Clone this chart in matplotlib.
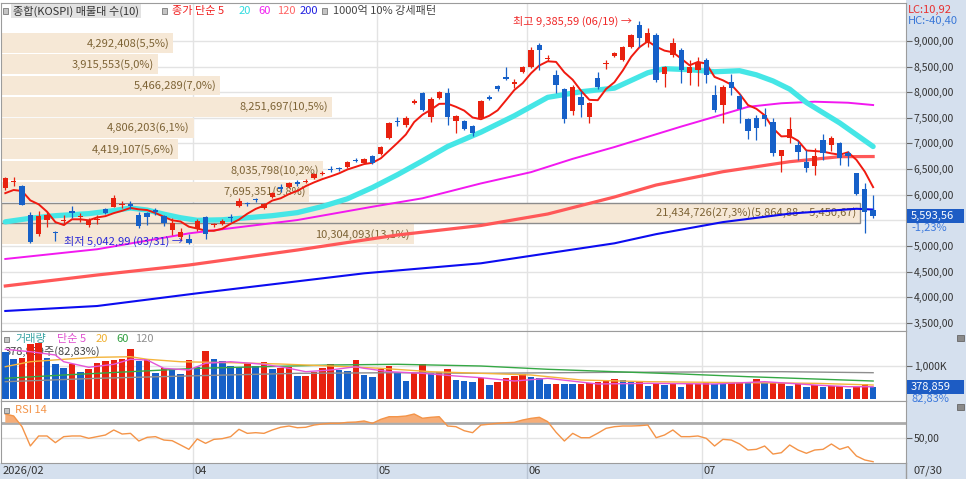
import matplotlib
matplotlib.use("Agg")
import matplotlib.pyplot as plt
import matplotlib.transforms as mtransforms
from matplotlib.patches import Rectangle
import numpy as np
import pandas as pd

# ---------------------------------------------------------------
# KOSPI daily candles 2026/02 - 07/30 : volume profile (10 bands),
# price MAs, volume panel and RSI 14
# ---------------------------------------------------------------

plt.rcParams['font.family'] = ['Noto Sans CJK KR', 'DejaVu Sans']
plt.rcParams['font.size'] = 8

opens = [6125, 6250, 6175, 5600, 5230, 5505, 5265, 5495, 5680, 5555,
         5410, 5515, 5715, 5765, 5805, 5815, 5600, 5635, 5700, 5590,
         5310, 5180, 5140, 5325, 5565, 5400, 5430, 5560, 5785, 5830,
         5905, 5735, 5955, 6155, 6155, 6240, 6250, 6320, 6405, 6500,
         6510, 6545, 6680, 6615, 6760, 6790, 7100, 7440, 7360, 7795,
         7980, 7520, 7880, 7980, 7440, 7440, 7345, 7490, 7905, 8115,
         8290, 8170, 8390, 8500, 8920, 8640, 8335, 8065, 7640, 7915,
         7520, 8270, 8550, 8715, 8630, 8890, 9310, 8955, 9115, 8350,
         8725, 8825, 8370, 8435, 8630, 7945, 7750, 8205, 7925, 7470,
         7490, 7555, 7425, 6755, 7100, 6970, 6645, 6560, 7065, 6970,
         7015, 6810, 6420, 6105, 5700]
highs = [6345, 6350, 6190, 5665, 5680, 5670, 5300, 5600, 5780, 5640,
         5545, 5600, 5735, 5995, 5880, 5880, 5660, 5670, 5740, 5610,
         5545, 5350, 5240, 5520, 5590, 5440, 5520, 5625, 5930, 5850,
         5930, 5830, 6050, 6200, 6240, 6280, 6300, 6420, 6460, 6560,
         6540, 6665, 6710, 6720, 6780, 6960, 7410, 7525, 7530, 7870,
         8010, 7900, 8030, 8075, 7560, 7460, 7370, 7850, 7950, 8140,
         8500, 8250, 8510, 8890, 8955, 8720, 8435, 8080, 8150, 8030,
         7800, 8400, 8620, 8790, 8910, 9140, 9385.59, 9250, 9150, 8520,
         9050, 8860, 8620, 8690, 8660, 8140, 8150, 8355, 7960, 7500,
         7555, 7690, 7500, 6880, 7515, 7040, 6870, 6910, 7180, 7150,
         7030, 6850, 6430, 6235, 5995]
lows = [6100, 6160, 5790, 5050, 5190, 5375, 5090, 5410, 5545, 5470,
        5360, 5430, 5615, 5750, 5740, 5730, 5350, 5410, 5600, 5380,
        5215, 5115, 5042.99, 5300, 5140, 5370, 5400, 5470, 5765, 5770,
        5860, 5720, 5940, 6060, 6140, 6170, 6220, 6300, 6380, 6440,
        6470, 6530, 6640, 6600, 6600, 6770, 7080, 7340, 7330, 7770,
        7640, 7410, 7860, 7360, 7200, 7260, 7150, 7470, 7840, 8030,
        8240, 8080, 8370, 8480, 8435, 8600, 7990, 7400, 7550, 7520,
        7390, 8060, 8460, 8690, 8600, 8870, 8890, 8890, 8200, 8110,
        8695, 8175, 8140, 8115, 8175, 7620, 7405, 7945, 7405, 7080,
        7065, 7340, 6750, 6450, 7000, 6670, 6450, 6380, 6675, 6860,
        6580, 6560, 5990, 5260, 5540]
closes = [6320, 6265, 5800, 5085, 5590, 5600, 5250, 5515, 5645, 5585,
          5505, 5530, 5640, 5940, 5815, 5780, 5395, 5570, 5655, 5440,
          5440, 5280, 5060, 5480, 5235, 5420, 5485, 5540, 5885, 5810,
          5890, 5810, 6035, 6105, 6220, 6205, 6270, 6400, 6425, 6490,
          6500, 6645, 6660, 6695, 6615, 6935, 7395, 7420, 7505, 7835,
          7655, 7870, 8000, 7520, 7535, 7280, 7200, 7830, 7860, 8065,
          8260, 8200, 8500, 8825, 8825, 8670, 8140, 7480, 8100, 7750,
          7785, 8110, 8575, 8760, 8890, 9115, 9055, 9150, 8240, 8500,
          8955, 8435, 8500, 8565, 8335, 7655, 8110, 8075, 7665, 7245,
          7295, 7470, 6810, 6870, 7280, 6840, 6515, 6755, 6810, 7110,
          6710, 6755, 6015, 5663, 5593.56]
pre_closes = [5955, 5900, 6000, 5975]   # the 4 sessions before the window (for MA5)

# volume in thousands
volumes = [1415, 1189, 1238, 1642, 1662, 1238, 1050, 942, 1050, 824,
           902, 1070, 1139, 1169, 1189, 1494, 1139, 1198, 774, 942,
           893, 745, 1169, 952, 1435, 1189, 1139, 991, 952, 1070,
           1001, 1100, 902, 942, 972, 690, 700, 824, 922, 1050,
           873, 853, 1169, 725, 676, 893, 991, 774, 547, 794,
           1041, 774, 824, 902, 577, 547, 528, 626, 429, 528,
           626, 695, 745, 665, 646, 459, 470, 455, 445, 465,
           478, 528, 535, 597, 577, 528, 540, 399, 498, 429,
           498, 380, 459, 465, 528, 459, 455, 498, 528, 520,
           597, 478, 480, 498, 399, 459, 360, 429, 380, 385,
           390, 301, 360, 457.39, 378.859]

rsi = [81.6, 79.0, 64.7, 39.0, 52.3, 52.3, 43.4, 51.4, 52.3, 52.3,
       49.2, 51.4, 53.6, 60.3, 54.9, 55.8, 45.6, 50.5, 51.4, 46.9,
       46.0, 40.3, 34.5, 48.3, 42.5, 47.8, 48.7, 51.4, 61.2, 55.8,
       56.7, 55.8, 60.3, 63.9, 65.6, 63.3, 63.9, 66.9, 68.3, 69.2,
       69.2, 70.5, 70.9, 72.3, 69.2, 74.5, 78.0, 78.0, 78.9, 81.6,
       75.9, 77.2, 78.0, 65.6, 64.7, 59.3, 56.7, 66.9, 68.0, 69.2,
       70.0, 70.5, 73.6, 75.8, 77.2, 71.4, 57.3, 45.6, 55.8, 50.0,
       50.0, 56.0, 62.5, 64.7, 65.6, 65.6, 66.0, 66.9, 50.0, 53.6,
       60.3, 51.4, 51.4, 52.3, 49.2, 38.9, 47.8, 46.9, 41.6, 33.6,
       34.5, 38.9, 28.2, 30.0, 40.3, 33.6, 29.2, 33.6, 34.5, 41.6,
       34.5, 38.0, 25.6, 20.3, 18.0]

# moving averages (candle index, value)
ma20_idx = [0, 3, 6, 10, 13, 15, 17, 19, 21, 23, 26, 29, 32, 35, 38, 41, 44, 47, 50,
            53, 57, 61, 65, 69, 73, 77, 79, 82, 85, 88, 90, 92, 94, 96, 98, 100, 102, 104]
ma20_val = [5470, 5540, 5590, 5630, 5690, 5740, 5700, 5620, 5550, 5500, 5510, 5550, 5590,
            5650, 5770, 5920, 6140, 6390, 6660, 6940, 7220, 7540, 7900, 8010, 8080, 8380,
            8460, 8440, 8400, 8420, 8340, 8220, 8060, 7800, 7600, 7400, 7170, 6940]
ma60_idx = [0, 11, 22, 35, 44, 50, 57, 63, 68, 73, 77, 81, 85, 89, 93, 97, 101, 104]
ma60_val = [4745, 4935, 5245, 5505, 5765, 5930, 6220, 6440, 6700, 6930, 7130, 7330, 7520,
            7715, 7785, 7815, 7795, 7750]
ma120_idx = [0, 11, 22, 35, 47, 57, 65, 73, 78, 86, 94, 100, 104]
ma120_val = [4218, 4432, 4627, 4920, 5213, 5399, 5623, 5955, 6189, 6449, 6644, 6742, 6745]
ma200_idx = [0, 11, 23, 43, 57, 73, 78, 86, 94, 102, 104]
ma200_val = [3730, 3827, 4075, 4465, 4661, 5051, 5230, 5465, 5630, 5725, 5710]

vma5_idx = [0, 3, 6, 7, 10, 13, 15, 17, 19, 22, 24, 27, 31, 34, 36, 39, 42, 43, 46, 50,
            54, 57, 61, 65, 71, 77, 85, 91, 97, 101, 104]
vma5_val = [1485, 1414, 1317, 1118, 953, 1042, 1190, 1169, 923, 873, 1071, 1118, 1042, 923,
            823, 873, 971, 923, 823, 775, 695, 645, 547, 627, 459, 479, 459, 527, 429, 379, 377]
vma20_idx = [0, 3, 7, 11, 15, 17, 21, 27, 33, 39, 45, 51, 57, 63, 69, 77, 89, 97, 104]
vma20_val = [971, 1118, 1190, 1249, 1266, 1190, 1118, 1089, 1050, 991, 923, 823, 775, 725,
             577, 527, 497, 479, 429]
vma60_idx = [0, 7, 15, 23, 31, 39, 47, 57, 65, 73, 81, 89, 97, 104]
vma60_val = [627, 725, 823, 923, 971, 1021, 1042, 991, 894, 823, 755, 675, 607, 547]
vma120_idx = [0, 11, 23, 35, 47, 57, 73, 93, 104]
vma120_val = [527, 627, 704, 775, 793, 775, 805, 823, 793]

# volume profile: band edges (bottom -> top) and traded volume per band
band_edges = [5036.46, 5450.67, 5864.88, 6279.09, 6693.30, 7107.51,
              7521.72, 7935.93, 8350.14, 8764.35, 9178.56]
band_vols = [10304093, 21434726, 7695351, 8035798, 4419107,
             4806203, 8251697, 5466289, 3915553, 4292408]

month_first = [23, 45, 63, 84]
month_names = ['04', '05', '06', '07']
hi_date, lo_date = '06/19', '03/31'
last_date = '07/30'


def kfmt(v, nd=2):
    return f"{v:,.{nd}f}".replace('.', ',')


W, H = 966, 479


def fx(px):
    return px / W


def fy(py):
    return 1 - py / H


UP, DOWN = '#e8210f', '#1660c8'
GRID = '#e3e3e3'
STRIP = '#d5e0ee'

fig = plt.figure(figsize=(W / 100, H / 100), dpi=100)
fig.patches.append(Rectangle((fx(906), 0), 1 - fx(906), 1, transform=fig.transFigure,
                             fc=STRIP, ec='none', zorder=-2))
fig.patches.append(Rectangle((0, 0), 1, 16 / H, transform=fig.transFigure,
                             fc=STRIP, ec='none', zorder=-2))

ax = fig.add_axes([fx(1), fy(331), fx(906) - fx(1), (331 - 3) / H])
axv = fig.add_axes([fx(1), fy(400.5), fx(906) - fx(1), (400.5 - 331) / H], sharex=ax)
axr = fig.add_axes([fx(1), fy(463), fx(906) - fx(1), (463 - 400.5) / H], sharex=ax)

x = np.arange(len(closes))
o = np.array(opens)
c = np.array(closes)
hi = np.array(highs)
lo = np.array(lows)
x_lo, x_hi = -0.515, 107.94

for a in (ax, axv, axr):
    a.set_xlim(x_lo, x_hi)
    a.yaxis.tick_right()
    a.tick_params(axis='y', direction='out', length=4, width=0.8, color='#666',
                  labelsize=7.5, labelcolor='#333', pad=1.5)
    a.tick_params(axis='x', bottom=False, labelbottom=False)
    a.set_axisbelow(True)
    for s in a.spines.values():
        s.set_color('#9c9c9c')
    for b in month_first:
        a.axvline(b - 0.5, color=GRID, lw=1, zorder=0.5)

# ---------------- price panel ----------------
ax.set_ylim(3339.2, 9741.8)
price_ticks = list(range(3500, 9001, 500))
ax.set_yticks(price_ticks)
# the tick nearest the last price sits under the price tag, as in the HTS chart
last_tick = min(price_ticks, key=lambda t: abs(t - closes[-1]))
ax.set_yticklabels(['' if t == last_tick else kfmt(t) for t in price_ticks])
ax.yaxis.grid(True, color=GRID, lw=1, zorder=0.5)

# volume profile bands
step = band_edges[1] - band_edges[0]
span = (x_hi - x_lo) * 0.949
vmax = max(band_vols)
vsum = sum(band_vols)
for k, v in enumerate(band_vols):
    yc = (band_edges[k] + band_edges[k + 1]) / 2
    w = v / vmax * span
    top = v == vmax
    ax.barh(yc - step * 0.03, w, height=step * 0.93, left=x_lo, color='#f6e8d6',
            edgecolor='#8c8c8c' if top else 'none', lw=1, zorder=1)
    label = f"{v:,}({v / vsum * 100:.1f}%)".replace('.', ',')
    if top:
        label += f"({kfmt(band_edges[k + 1])} ~ {kfmt(band_edges[k])})"
    ax.text(x_lo + w - 0.45, yc - step * 0.03, label, ha='right', va='center',
            color='#7d6335', fontsize=8, zorder=2)

# moving averages
ma5 = pd.Series(pre_closes + closes).rolling(5).mean().iloc[4:].values
ax.plot(ma200_idx, ma200_val, color='#0c0cf0', lw=1.5, zorder=3)
ax.plot(ma120_idx, ma120_val, color='#ff5858', lw=2.3, zorder=3)
ax.plot(ma60_idx, ma60_val, color='#f218f0', lw=1.4, zorder=3)
ax.plot(ma20_idx, ma20_val, color='#45e6e6', lw=3.8, solid_capstyle='round', zorder=3)
ax.plot(x, ma5, color='#f01a10', lw=1.4, zorder=3.5)

# candles
ccol = np.where(c >= o, UP, DOWN)
ax.vlines(x, lo, hi, colors=ccol, lw=0.9, zorder=3.9)
ax.bar(x, np.maximum(np.abs(c - o), 18), bottom=np.minimum(o, c), width=0.64,
       color=ccol, lw=0, zorder=4)

# high / low markers
ih = int(np.argmax(hi))
il = int(np.argmin(lo))
ax.text(ih - 0.85, hi[ih], f"최고 {kfmt(hi[ih])} ({hi_date}) →", ha='right', va='center',
        color='#f02828', fontsize=8, zorder=5)
ax.text(il - 0.75, lo[il] + 40, f"최저 {kfmt(lo[il])} ({lo_date}) →", ha='right', va='center',
        color='#2a2ad8', fontsize=8, zorder=5)

# ---------------- volume panel ----------------
vol = np.array(volumes)
vcol = [DOWN] + [UP if vol[i] > vol[i - 1] else DOWN for i in range(1, len(vol))]
axv.set_ylim(-29.6, 2027)
axv.set_yticks([1000])
axv.set_yticklabels(['1,000K'])
axv.yaxis.grid(True, color=GRID, lw=1)
axv.bar(x, vol, width=0.78, color=vcol, lw=0, zorder=2)
axv.plot(vma120_idx, vma120_val, color='#8e8e8e', lw=1, zorder=3)
axv.plot(vma60_idx, vma60_val, color='#35a845', lw=1, zorder=3)
axv.plot(vma20_idx, vma20_val, color='#f4b43a', lw=1, zorder=3)
axv.plot(vma5_idx, vma5_val, color='#e455d8', lw=1, zorder=3)
vr = vol[-1] / vol[-2] * 100
axv.text(0.004, 0.7, f"{vol[-1] * 1000:,.0f}주({vr:.2f}%)".replace('.', ','),
         transform=axv.transAxes, color='#444', fontsize=8, va='center', zorder=1)

# ---------------- RSI panel ----------------
r = np.array(rsi)
axr.set_ylim(16.27, 99.6)
axr.set_yticks([50])
axr.set_yticklabels(['50,00'])
axr.axhline(50, color=GRID, lw=1, zorder=0.5)
axr.axhline(70, color='#ababab', lw=2, zorder=1)
axr.fill_between(x, r, 70, where=r > 70, interpolate=True, color='#f6ad78', lw=0, zorder=2)
axr.plot(x, r, color='#f49448', lw=1, zorder=3)

# date labels in the bottom strip
tr = mtransforms.blended_transform_factory(axr.transData, fig.transFigure)
axr.text(-0.3, fy(471), '2026/02', transform=tr, ha='left', va='center', color='#333',
         fontsize=8, clip_on=False)
for b, name in zip(month_first, month_names):
    axr.plot([b - 0.5, b - 0.5], [fy(463), fy(479)], transform=tr, color='#b8c4d4',
             lw=1, clip_on=False)
    axr.text(b - 0.3, fy(471), name, transform=tr, ha='left', va='center', color='#333',
             fontsize=8, clip_on=False)
fig.text(fx(913), fy(471), last_date, color='#333', fontsize=8, va='center')
fig.lines.append(plt.Line2D([fx(906), fx(906)], [0, 16 / H], transform=fig.transFigure,
                            color='#9c9c9c', lw=1))


# ---------------- labels on the right strip ----------------
def value_tag(a, val, txt, sub):
    yf = a.transData.transform((0, val))[1] / (fig.get_figheight() * fig.dpi)
    fig.patches.append(Rectangle((fx(907), yf - 7 / H), 57 / W, 14 / H, transform=fig.transFigure,
                                 fc='#1d5cc4', ec='none', zorder=3))
    fig.text(fx(911), yf, txt, color='white', fontsize=8, va='center', zorder=4)
    fig.text(fx(911), yf - 12 / H, sub, color='#3b78dc', fontsize=8, va='center', zorder=4)


chg = (c[-1] / c[-2] - 1) * 100
value_tag(ax, c[-1], kfmt(c[-1]), f"{chg:.2f}%".replace('.', ','))
value_tag(axv, vol[-1], f"{vol[-1] * 1000:,.0f}", f"{vr:.2f}%".replace('.', ','))

lc = (c[-1] / lo.min() - 1) * 100
hc = (c[-1] / hi.max() - 1) * 100
fig.text(fx(908), fy(10), f"LC:{lc:.2f}".replace('.', ','), color='#e83030', fontsize=8, va='center')
fig.text(fx(908), fy(21), f"HC:{hc:.2f}".replace('.', ','), color='#3a78d8', fontsize=8, va='center')

for yy in (338, 407):
    fig.patches.append(Rectangle((fx(957), fy(yy + 3)), 7 / W, 6 / H, transform=fig.transFigure,
                                 fc='#8a8a8a', ec='#666', lw=0.6, zorder=3))


# ---------------- legends ----------------
def bullet(px, py):
    fig.patches.append(Rectangle((fx(px - 2.5), fy(py + 2.5)), 5 / W, 5 / H, transform=fig.transFigure,
                                 fc='#c4c4c4', ec='#7a7a7a', lw=0.6, zorder=6))


def label(px, py, s, color, **kw):
    fig.text(fx(px), fy(py), s, color=color, fontsize=8, va='center', zorder=7, **kw)


bullet(5, 11)
label(13, 11, '종합(KOSPI) 매물대 수(10)', '#333',
      bbox=dict(boxstyle='square,pad=0.15', fc='#e2e2e2', ec='none'))
bullet(164, 11)
label(172, 11, '종가 단순 5', '#f02020')
label(239, 11, '20', '#30dce0')
label(258, 11, '60', '#f020f0')
label(277, 11, '120', '#ff6464')
label(300, 11, '200', '#2020e0')
bullet(324, 11)
label(333, 11, '1000억 10% 강세패턴', '#444')

bullet(6, 339)
label(15, 339, '거래량', '#3aa5a5')
label(57, 339, '단순 5', '#e050d0')
label(96, 339, '20', '#f0b030')
label(116, 339, '60', '#30a040')
label(135, 339, '120', '#909090')

bullet(6, 410)
label(15, 410, 'RSI 14', '#f49448')

fig.savefig('out.png', dpi=100)
